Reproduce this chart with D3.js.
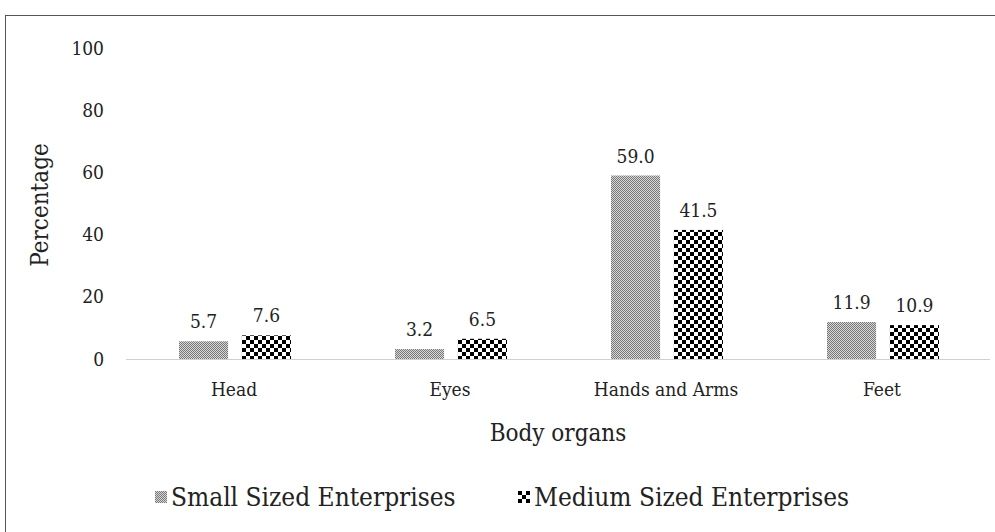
<!DOCTYPE html>
<html>
<head>
<meta charset="utf-8">
<script src="https://cdn.jsdelivr.net/npm/d3@7"></script>
<style>
  body { margin: 0; background: #fff; }
  text { font-family: "DejaVu Serif Condensed", "DejaVu Serif", serif; font-stretch: condensed; fill: #222; }
</style>
</head>
<body>
<script>
(function () {

    //chart data
    var categories = ["Head", "Eyes", "Hands and Arms", "Feet"];
    var seriesNames = ["Small Sized Enterprises", "Medium Sized Enterprises"];
    var smallValues = [5.7, 3.2, 59.0, 11.9];
    var mediumValues = [7.6, 6.5, 41.5, 10.9];
    var yTicks = [0, 20, 40, 60, 80, 100];

    var width = 995, height = 532;

    var svg = d3.select("body").append("svg")
        .attr("width", width)
        .attr("height", height);

    //patterns for the two series
    var defs = svg.append("defs");
    var pSmall = defs.append("pattern")
        .attr("id", "patSmall")
        .attr("patternUnits", "userSpaceOnUse")
        .attr("width", 2).attr("height", 2);
    pSmall.append("rect").attr("width", 2).attr("height", 2).attr("fill", "#d8d8d8");
    pSmall.append("rect").attr("width", 1).attr("height", 1).attr("fill", "#777");
    pSmall.append("rect").attr("x", 1).attr("y", 1).attr("width", 1).attr("height", 1).attr("fill", "#777");

    var pMed = defs.append("pattern")
        .attr("id", "patMedium")
        .attr("patternUnits", "userSpaceOnUse")
        .attr("width", 8).attr("height", 8);
    pMed.append("rect").attr("width", 8).attr("height", 8).attr("fill", "#fff");
    pMed.append("rect").attr("width", 4).attr("height", 4).attr("fill", "#000");
    pMed.append("rect").attr("x", 4).attr("y", 4).attr("width", 4).attr("height", 4).attr("fill", "#000");

    var fills = ["url(#patSmall)", "url(#patMedium)"];

    //outer frame
    svg.append("rect")
        .attr("x", 5.5).attr("y", 15.5)
        .attr("width", 1000).attr("height", 540)
        .attr("fill", "none")
        .attr("stroke", "#555")
        .attr("stroke-width", 1);

    //scales
    var x = d3.scaleBand()
        .domain(categories)
        .range([126, 990]);

    var y = d3.scaleLinear()
        .domain([0, 100])
        .range([359, 48]);

    var inner = d3.scaleBand()
        .domain(seriesNames)
        .range([x.bandwidth() / 2 - 55, x.bandwidth() / 2 + 57])
        .paddingInner(0.22);

    //y tick labels
    svg.selectAll(".ytick")
        .data(yTicks)
        .enter()
        .append("text")
        .attr("class", "ytick")
        .attr("x", 104)
        .attr("y", function (d) { return y(d); })
        .attr("dy", "0.35em")
        .attr("text-anchor", "end")
        .style("font-size", "19px")
        .text(function (d) { return d; });

    //x axis line
    svg.append("line")
        .attr("x1", x.range()[0]).attr("x2", x.range()[1])
        .attr("y1", y(0) + 0.5).attr("y2", y(0) + 0.5)
        .attr("stroke", "#d0d0d0")
        .attr("stroke-width", 1);

    //bars
    var rows = categories.map(function (c, i) {
        return { cat: c, vals: [smallValues[i], mediumValues[i]] };
    });

    var groups = svg.selectAll(".grp")
        .data(rows)
        .enter()
        .append("g")
        .attr("class", "grp")
        .attr("transform", function (d) { return "translate(" + x(d.cat) + ",0)"; });

    groups.selectAll("rect")
        .data(function (d) { return d.vals.map(function (v, j) { return { v: v, s: seriesNames[j], j: j }; }); })
        .enter()
        .append("rect")
        .attr("x", function (d) { return inner(d.s); })
        .attr("y", function (d) { return y(d.v); })
        .attr("width", inner.bandwidth())
        .attr("height", function (d) { return y(0) - y(d.v); })
        .attr("fill", function (d) { return fills[d.j]; });

    groups.selectAll(".lbl")
        .data(function (d) { return d.vals.map(function (v, j) { return { v: v, s: seriesNames[j] }; }); })
        .enter()
        .append("text")
        .attr("class", "lbl")
        .attr("x", function (d) { return inner(d.s) + inner.bandwidth() / 2; })
        .attr("y", function (d) { return y(d.v) - 13; })
        .attr("text-anchor", "middle")
        .style("font-size", "19px")
        .text(function (d) { return d.v.toFixed(1); });

    //category labels
    svg.selectAll(".xlbl")
        .data(categories)
        .enter()
        .append("text")
        .attr("class", "xlbl")
        .attr("x", function (d) { return x(d) + x.bandwidth() / 2; })
        .attr("y", 396)
        .attr("text-anchor", "middle")
        .style("font-size", "19px")
        .text(function (d) { return d; });

    //axis titles
    svg.append("text")
        .attr("x", (x.range()[0] + x.range()[1]) / 2)
        .attr("y", 441)
        .attr("text-anchor", "middle")
        .style("font-size", "24px")
        .text("Body organs");

    svg.append("text")
        .attr("transform", "translate(48,205) rotate(-90)")
        .attr("text-anchor", "middle")
        .style("font-size", "24px")
        .text("Percentage");

    //legend
    var legendX = [155, 518];
    var legend = svg.selectAll(".leg")
        .data(seriesNames)
        .enter()
        .append("g")
        .attr("class", "leg")
        .attr("transform", function (d, i) { return "translate(" + legendX[i] + ",491)"; });

    legend.append("rect")
        .attr("width", 12).attr("height", 12)
        .attr("fill", function (d, i) { return fills[i]; });

    legend.append("text")
        .attr("x", 16)
        .attr("y", 6)
        .attr("dy", "0.35em")
        .style("font-size", "26px")
        .text(function (d) { return d; });

})();
</script>
</body>
</html>
